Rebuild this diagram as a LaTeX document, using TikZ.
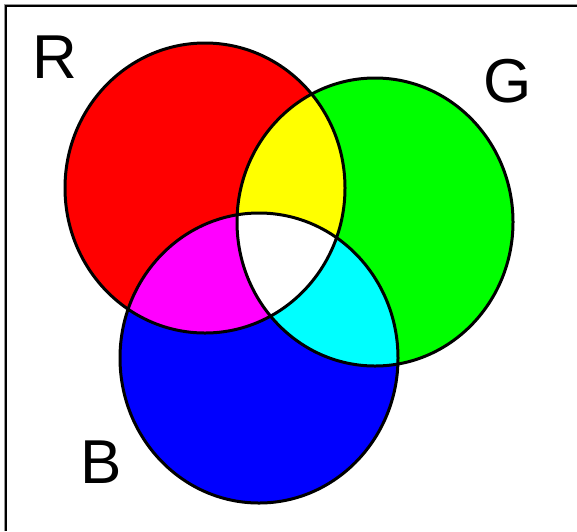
\documentclass[tikz,border=0pt]{standalone}
\usepackage{fontspec}
\setmainfont{Liberation Sans}
\definecolor{cR}{RGB}{255,0,0}
\definecolor{cG}{RGB}{0,255,0}
\definecolor{cB}{RGB}{0,0,255}
\definecolor{cY}{RGB}{255,255,0}
\definecolor{cM}{RGB}{255,0,255}
\definecolor{cC}{RGB}{0,255,255}
\definecolor{frameGray}{RGB}{150,150,150}
\tikzset{
  outline/.style={draw=black, line width=3pt},
  lbl/.style={inner sep=0pt, font=\fontsize{62}{62}\selectfont}
}
\begin{document}
\begin{tikzpicture}[x=1pt,y=-1pt]
\useasboundingbox (0,0) rectangle (577,531);
\fill[white] (0,0) rectangle (577,531);
% window edge (left and top only)
\draw[frameGray, line width=1pt] (4.5,531) -- (4.5,4.5) -- (577,4.5);
\draw[black, line width=2pt] (6,531) -- (6,6) -- (577,6);
% base fills
\fill[cR] (205,188) ellipse [x radius=140pt, y radius=145pt];
\fill[cG] (375,222) ellipse [x radius=138pt, y radius=144pt];
\fill[cB] (259,358) ellipse [x radius=139pt, y radius=145pt];
% pairwise overlaps
\begin{scope}
  \clip (205,188) ellipse [x radius=140pt, y radius=145pt];
  \fill[cY] (375,222) ellipse [x radius=138pt, y radius=144pt];
  \fill[cM] (259,358) ellipse [x radius=139pt, y radius=145pt];
\end{scope}
\begin{scope}
  \clip (375,222) ellipse [x radius=138pt, y radius=144pt];
  \fill[cC] (259,358) ellipse [x radius=139pt, y radius=145pt];
\end{scope}
% triple overlap
\begin{scope}
  \clip (205,188) ellipse [x radius=140pt, y radius=145pt];
  \clip (375,222) ellipse [x radius=138pt, y radius=144pt];
  \fill[white] (259,358) ellipse [x radius=139pt, y radius=145pt];
\end{scope}
% outlines
\path[outline] (205,188) ellipse [x radius=140pt, y radius=145pt];
\path[outline] (375,222) ellipse [x radius=138pt, y radius=144pt];
\path[outline] (259,358) ellipse [x radius=139pt, y radius=145pt];
% labels
\node[lbl] (labR) at (55,57) {R};
\node[lbl] (labG) at (508,81) {G};
\node[lbl] (labB) at (101,462) {B};
\end{tikzpicture}
\end{document}
